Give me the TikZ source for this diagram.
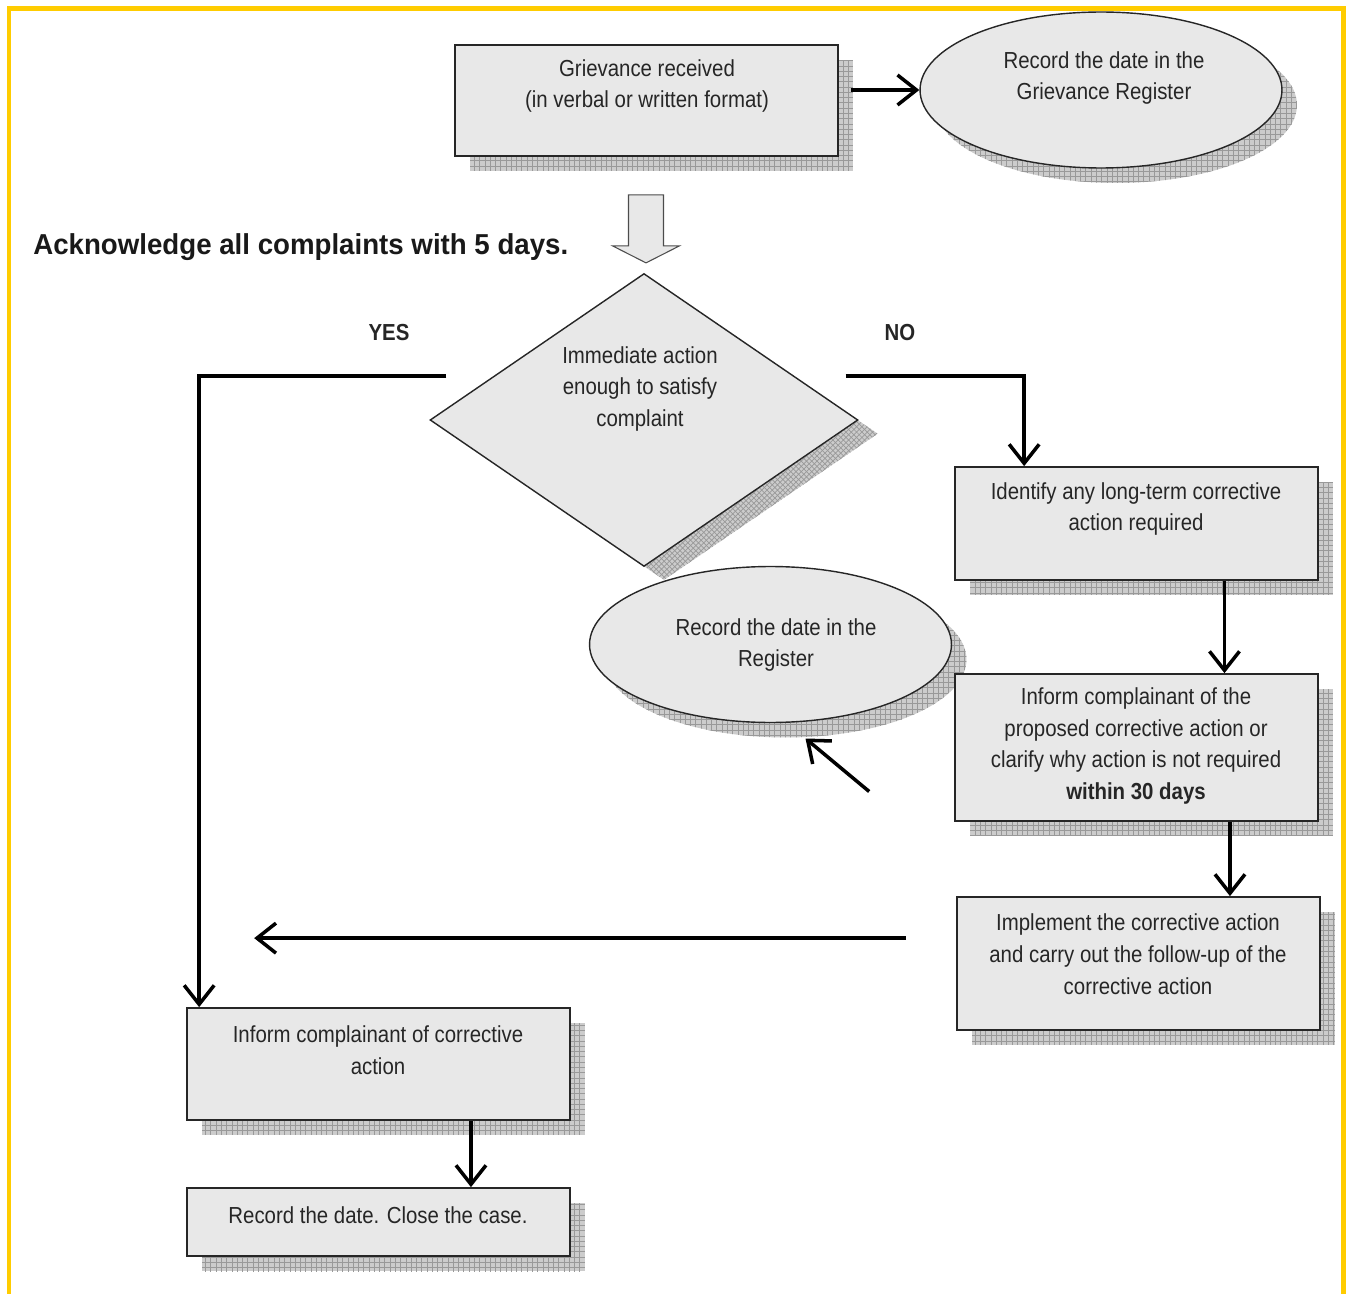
\documentclass[tikz,border=0pt]{standalone}
\usepackage{fontspec}
\setmainfont{Liberation Sans}[FakeStretch=0.88]
\newfontfamily\headfont{Liberation Sans}[FakeStretch=0.96]
\usepackage{xcolor}
\usepackage{tikz}
\usetikzlibrary{shapes.geometric, arrows.meta, shadows, patterns}

\definecolor{boxgray}{HTML}{E8E8E8}
\definecolor{shadegray}{HTML}{CCCCCC}
\definecolor{gridgray}{HTML}{999999}
\definecolor{frameyellow}{HTML}{FFCC00}

\tikzset{
    grid shadow/.style={
        drop shadow={shadow xshift=0.3cm, shadow yshift=-0.3cm, opacity=1, fill=shadegray},
        drop shadow={shadow xshift=0.3cm, shadow yshift=-0.3cm, opacity=1, pattern=grid, pattern color=gridgray}},
    hatch shadow/.style={
        drop shadow={shadow xshift=0.4cm, shadow yshift=-0.274cm, opacity=1, fill=shadegray},
        drop shadow={shadow xshift=0.4cm, shadow yshift=-0.274cm, opacity=1, pattern=crosshatch, pattern color=gridgray}},
    box/.style={draw=black!85, line width=1pt, fill=boxgray, grid shadow},
    oval/.style={ellipse, draw=black!85, line width=0.8pt, fill=boxgray,
        minimum width=7.24cm, minimum height=3.12cm, grid shadow},
    decision/.style={diamond, draw=black!85, line width=0.8pt, fill=boxgray,
        minimum width=8.56cm, minimum height=5.86cm, hatch shadow},
    txt/.style={align=center, text=black!85, inner sep=0pt, font=\fontsize{13.2}{18.1}\selectfont},
    lab/.style={text=black!85, font=\fontsize{13.2}{16}\selectfont\bfseries},
    arr/.style={line width=2pt, -{Straight Barb[length=0.38cm, width=0.6cm]}}
}

\begin{document}
\begin{tikzpicture}[x=0.02cm, y=-0.02cm]
    \useasboundingbox (0,0) rectangle (1346,1294);
    \draw[frameyellow, line width=0.1cm] (9,1300) -- (9,9) -- (1343.5,9) -- (1343.5,1300);

    % shapes
    \node[box, minimum width=7.66cm, minimum height=2.22cm] (recv) at (646.5,100.5) {};
    \node[oval] (regA) at (1101,90) {};
    \node[decision] (dec) at (644,420) {};
    \node[box, minimum width=7.26cm, minimum height=2.26cm] (ident) at (1136.5,523.5) {};
    \node[oval] (regB) at (770.5,644.5) {};
    \node[box, minimum width=7.26cm, minimum height=2.94cm] (inform) at (1136.5,747.5) {};
    \node[box, minimum width=7.26cm, minimum height=2.66cm] (impl) at (1138.5,963.5) {};
    \node[box, minimum width=7.66cm, minimum height=2.24cm] (infc) at (378.5,1064) {};
    \node[box, minimum width=7.66cm, minimum height=1.36cm] (close) at (378.5,1222) {};

    % texts
    \node[txt] (recvt) at (647,86) {Grievance received\\(in verbal or written format)};
    \node[txt] (regAt) at (1104,78) {Record the date in the\\Grievance Register};
    \node[txt] (dect) at (640,389) {Immediate action\\enough to satisfy\\complaint};
    \node[txt] (identt) at (1136,509) {Identify any long-term corrective\\action required};
    \node[txt] (regBt) at (776,645) {Record the date in the\\Register};
    \node[txt] (informt) at (1136,746) {Inform complainant of the\\proposed corrective action or\\clarify why action is not required\\\textbf{within 30 days}};
    \node[txt] (implt) at (1138,954) {Implement the corrective action\\and carry out the follow-up of the\\corrective action};
    \node[txt] (infct) at (378,1050) {Inform complainant of corrective\\action};
    \node[txt] (closet) at (378,1215) {Record the date. Close the case.};

    \node[anchor=base west, text=black!90, inner sep=0pt, font=\headfont\fontsize{16.4}{20}\selectfont\bfseries] (ack) at (33,255) {Acknowledge all complaints with 5 days.};
    \node[lab] (yes) at (389,333) {YES};
    \node[lab] (no) at (900,333) {NO};

    % hollow arrow
    \draw[draw=black!70, line width=0.6pt, fill=boxgray]
        ([shift={(-18,38)}]recv.south) -- ++(0,51) -- ++(-16,0) -- ++(33.5,17)
        -- ++(33.5,-17) -- ++(-16,0) -- ++(0,-51) -- cycle;

    % connectors
    \coordinate (lend) at ([shift={(68,-69)}]infc.north west);
    \draw[arr] ([shift={(12,0)}]recv.east |- regA.west) -- (regA.west);
    \draw[arr] ([shift={(17,-44)}]dec.west) -| ([shift={(13,0)}]infc.north west);
    \draw[arr] ([shift={(-13,-44)}]dec.east) -| ([shift={(70,0)}]ident.north west);
    \draw[arr] ([xshift=1.76cm]ident.south) -- ([xshift=1.76cm]ident.south |- inform.north);
    \draw[arr] ([xshift=1.87cm]inform.south) -- ([xshift=1.87cm]inform.south |- impl.north);
    \draw[arr] ([shift={(-85,44)}]inform.west) -- ([shift={(35,94)}]regB.center);
    \draw[arr] ([xshift=-1cm]impl.west |- lend) -- (lend);
    \draw[arr] ([xshift=1.85cm]infc.south) -- ([xshift=1.85cm]infc.south |- close.north);
\end{tikzpicture}
\end{document}
